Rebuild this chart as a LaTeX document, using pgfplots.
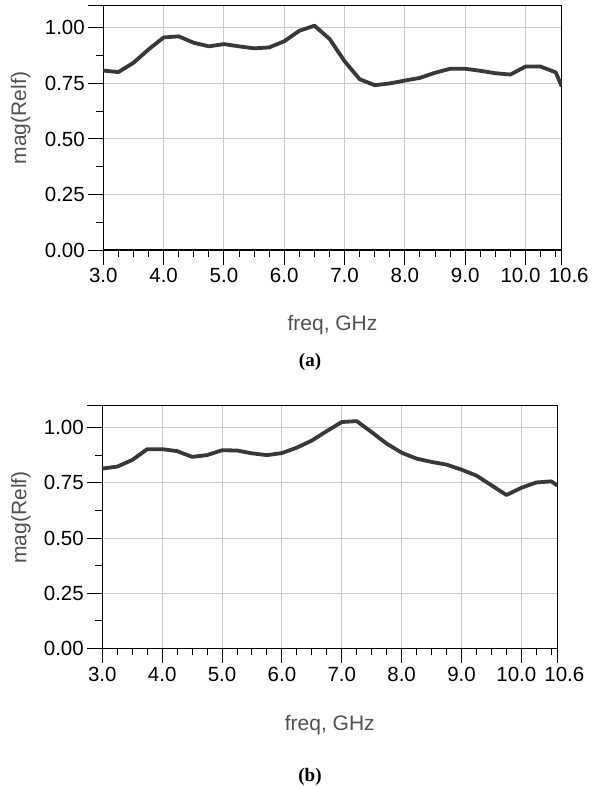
\documentclass[border=0pt]{standalone}
\usepackage{fontspec}
\setmainfont{Liberation Sans}
\newfontfamily\capfont{Liberation Serif}
\usepackage{pgfplots}
\usepackage{pgfplotstable}
\pgfplotsset{compat=1.18}

\definecolor{curve}{HTML}{383838}
\definecolor{gridgray}{HTML}{C8C8C8}
\definecolor{labelgray}{HTML}{505050}

% mag(Relf) versus frequency
\pgfplotstableread{
f m
3.00 0.808
3.25 0.801
3.50 0.843
3.75 0.903
4.00 0.957
4.25 0.962
4.50 0.933
4.75 0.917
5.00 0.927
5.25 0.917
5.50 0.908
5.75 0.912
6.00 0.940
6.25 0.987
6.50 1.010
6.75 0.951
7.00 0.850
7.25 0.769
7.50 0.742
7.75 0.750
8.00 0.763
8.25 0.775
8.50 0.798
8.75 0.816
9.00 0.816
9.25 0.807
9.50 0.796
9.75 0.790
10.00 0.826
10.25 0.826
10.50 0.800
10.60 0.737
}\panelA

\pgfplotstableread{
f m
3.00 0.815
3.25 0.824
3.50 0.854
3.75 0.903
4.00 0.903
4.25 0.894
4.50 0.868
4.75 0.876
5.00 0.898
5.25 0.897
5.50 0.884
5.75 0.876
6.00 0.885
6.25 0.910
6.50 0.942
6.75 0.985
7.00 1.026
7.25 1.030
7.50 0.980
7.75 0.928
8.00 0.887
8.25 0.860
8.50 0.845
8.75 0.833
9.00 0.810
9.25 0.783
9.50 0.739
9.75 0.695
10.00 0.728
10.25 0.752
10.50 0.757
10.60 0.738
}\panelB

\pgfplotsset{
  adsplot/.style={
    scale only axis,
    xmin=3, xmax=10.6, ymin=0, ymax=1.1,
    xtick={3,4,5,6,7,8,9,10,10.6},
    xticklabels={3.0,4.0,5.0,6.0,7.0,8.0,9.0,{10.0\kern10pt},{\kern14pt 10.6}},
    minor xtick={3.25,3.5,3.75,4.25,4.5,4.75,5.25,5.5,5.75,6.25,6.5,6.75,7.25,7.5,7.75,8.25,8.5,8.75,9.25,9.5,9.75,10.25,10.5},
    ytick={0,0.25,0.5,0.75,1,1.1},
    yticklabels={0.00,0.25,0.50,0.75,1.00,{}},
    minor ytick={0.125,0.375,0.625,0.875},
    xtick pos=left, ytick pos=left,
    tick align=outside,
    major tick length=15pt, minor tick length=7pt,
    every tick/.append style={black, line width=1pt},
    every minor tick/.append style={black, line width=1pt},
    xmajorgrids, ymajorgrids,
    grid style={gridgray, line width=1pt},
    axis line style={black, line width=1.2pt},
    tick label style={font=\fontsize{20.5}{24}\selectfont, black},
    label style={font=\fontsize{21}{25}\selectfont, text=labelgray},
    xlabel={freq, GHz},
    ylabel={mag(Relf)},
  },
}

\begin{document}
\begin{tikzpicture}[x=1pt, y=1pt]
\path[use as bounding box] (0,0) rectangle (591,-786);

\begin{axis}[adsplot,
  at={(103.3pt,-250pt)}, anchor=south west,
  width=458.4pt, height=244.3pt,
  xlabel style={at={(axis description cs:0.5,-0.307)}, anchor=center},
  ylabel style={at={(axis description cs:-0.18,0.54)}, anchor=center},
]
\addplot[curve, line width=3.8pt, line join=round] table[x=f, y=m] {\panelA};
\end{axis}

\begin{axis}[adsplot,
  at={(102.3pt,-648.3pt)}, anchor=south west,
  width=455pt, height=242.6pt,
  xlabel style={at={(axis description cs:0.5,-0.316)}, anchor=center},
  ylabel style={at={(axis description cs:-0.179,0.539)}, anchor=center},
]
\addplot[curve, line width=3.8pt, line join=round] table[x=f, y=m] {\panelB};
\end{axis}

\node[font=\capfont\bfseries\fontsize{19}{22}\selectfont] at (310,-361.7) {(a)};
\node[font=\capfont\bfseries\fontsize{19}{22}\selectfont] at (310,-777) {(b)};
\end{tikzpicture}
\end{document}
